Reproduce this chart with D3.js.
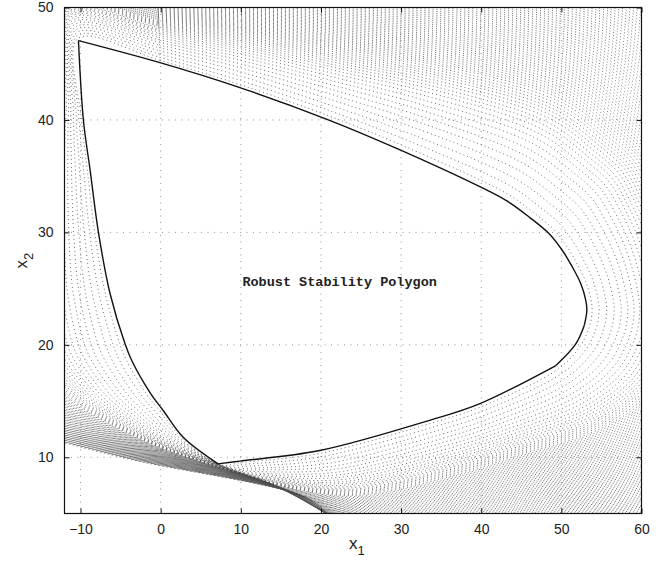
<!DOCTYPE html>
<html>
<head>
<meta charset="utf-8">
<script src="https://cdn.jsdelivr.net/npm/d3@7"></script>
<style>
  body { margin: 0; background: #fff; }
  svg { display: block; }
  .tick text { font-family: "Liberation Sans", Arial, sans-serif; font-size: 14px; fill: #222; }
</style>
</head>
<body>
<svg width="666" height="564"></svg>
<script>
// boundary of the robust stability polygon (x1, x2)
var polyX1 = [-10.26, -0.09, 9.88, 21.08, 29.80, 39.76, 43.09, 45.99, 48.48, 50.13,
              51.38, 52.43, 53.05, 53.18, 52.87, 51.80, 49.32, 39.77, 33.75, 19.84,
              9.88, 7.17, 2.81, 0.32, -1.33, -3.61, -4.45, -6.31, -7.77, -8.80,
              -9.64];
var polyX2 = [47.06, 45.10, 42.88, 39.97, 37.36, 34.09, 32.85, 31.36, 29.88, 28.39,
              26.91, 25.43, 23.95, 23.06, 21.75, 20.09, 18.16, 14.75, 13.33, 10.60,
              9.66, 9.41, 11.78, 14.16, 15.76, 18.61, 20.09, 24.54, 30.03, 35.52,
              39.97];
// vertices where the boundary has a corner
var corners = [0, 14, 16, 21];

// how the family of boundary curves fans out from each polygon vertex
var fanX1 = [-0.6, -0.1, 0.4, 1.0, 2.0, 3.6, 4.0, 4.4, 4.9, 5.1,
             5.3, 5.4, 5.5, 5.5, 5.3, 4.4, 2.6, 2.0, 1.9, 2.0,
             2.3, 2.2, -1.5, -3.6, -4.6, -5.4, -5.5, -5.0, -4.0, -3.0,
             -2.0];
var fanX2 = [1.5, 1.7, 2.2, 2.8, 3.4, 3.8, 3.7, 3.4, 3.0, 2.4,
             1.8, 1.0, 0.2, -0.2, -0.9, -1.9, -2.5, -2.1, -2.1, -1.8,
             -1.0, -0.6, -0.35, -0.3, -0.2, 0, 0.1, 0.3, 0.5, 0.7,
             0.9];
// steps of the family (outer curves are packed tighter)
var fanSteps = [0.12, 0.28, 0.45, 0.62, 0.78, 0.93, 1.07, 1.2, 1.32, 1.43,
                1.53, 1.62, 1.7, 1.78, 1.85, 1.92, 1.98, 2.04, 2.1, 2.16,
                2.22, 2.27, 2.32, 2.37, 2.42, 2.47, 2.52, 2.57, 2.62, 2.67,
                2.72, 2.77, 2.82, 2.87, 2.92, 2.97, 3.02, 3.07, 3.12, 3.17,
                3.22, 3.27, 3.32, 3.37, 3.42, 3.47, 3.52, 3.57, 3.62, 3.67,
                3.72, 3.77, 3.82, 3.87, 3.92, 3.97, 4.02, 4.07, 4.12, 4.17,
                4.22, 4.27, 4.32, 4.37, 4.42, 4.47, 4.52, 4.57, 4.62, 4.67,
                4.72, 4.77, 4.82, 4.87, 4.92, 4.97, 5.02, 5.07, 5.12];

var xTicks = [-10, 0, 10, 20, 30, 40, 50, 60];
var yTicks = [10, 20, 30, 40, 50];

var svg = d3.select("svg"),
    margin = {top: 7.5, right: 24.5, bottom: 50.5, left: 64.5},
    width = +svg.attr("width") - margin.left - margin.right,
    height = +svg.attr("height") - margin.top - margin.bottom;

var x = d3.scaleLinear().domain([-12, 60]).range([0, width]),
    y = d3.scaleLinear().domain([5, 50]).range([height, 0]);

svg.append("defs").append("clipPath")
    .attr("id", "clip")
  .append("rect")
    .attr("width", width)
    .attr("height", height);

var g = svg.append("g")
    .attr("transform", "translate(" + margin.left + "," + margin.top + ")");

var loop = d3.line()
    .x(function(d) { return x(d[0]); })
    .y(function(d) { return y(d[1]); })
    .curve(d3.curveCatmullRomClosed.alpha(0.5));

var piece = d3.line()
    .x(function(d) { return x(d[0]); })
    .y(function(d) { return y(d[1]); })
    .curve(d3.curveCatmullRom.alpha(0.5));

// dotted family of boundary curves
var family = fanSteps.map(function(s) {
    return polyX1.map(function(v, i) {
        return [v + s * fanX1[i], polyX2[i] + s * fanX2[i]];
    });
});

g.append("g")
    .attr("clip-path", "url(#clip)")
  .selectAll("path")
    .data(family)
  .enter().append("path")
    .attr("d", loop)
    .attr("fill", "none")
    .attr("stroke", "#4a4a4a")
    .attr("stroke-width", 0.8)
    .attr("stroke-dasharray", "1,3");

// grid
g.append("g").selectAll("line")
    .data(xTicks)
  .enter().append("line")
    .attr("x1", function(d) { return x(d); })
    .attr("x2", function(d) { return x(d); })
    .attr("y1", 0).attr("y2", height)
    .attr("stroke", "#777").attr("stroke-width", 0.8)
    .attr("stroke-dasharray", "1,5.5");

g.append("g").selectAll("line")
    .data(yTicks)
  .enter().append("line")
    .attr("x1", 0).attr("x2", width)
    .attr("y1", function(d) { return y(d); })
    .attr("y2", function(d) { return y(d); })
    .attr("stroke", "#777").attr("stroke-width", 0.8)
    .attr("stroke-dasharray", "1,5.5");

// polygon, smooth between corners
var poly = polyX1.map(function(v, i) { return [v, polyX2[i]]; });
var pieces = corners.map(function(c, k) {
    var end = k + 1 < corners.length ? corners[k + 1] : poly.length;
    var seg = poly.slice(c, end + 1);
    if (end === poly.length) seg.push(poly[0]);
    return seg;
});

g.append("g").selectAll("path")
    .data(pieces)
  .enter().append("path")
    .attr("d", piece)
    .attr("fill", "none")
    .attr("stroke", "#111")
    .attr("stroke-width", 1.4)
    .attr("stroke-linejoin", "round");

g.append("text")
    .attr("x", x(10.2))
    .attr("y", y(25.2))
    .style("font-family", "'Courier New', 'Liberation Mono', monospace")
    .style("font-weight", "bold")
    .style("font-size", "13.5px")
    .attr("fill", "#222")
    .text("Robust Stability Polygon");

// axes, MATLAB box style with inward ticks
g.append("g")
    .attr("transform", "translate(0," + height + ")")
    .call(d3.axisBottom(x).tickValues(xTicks).tickSizeInner(-5).tickSizeOuter(0).tickPadding(11));
g.append("g")
    .call(d3.axisTop(x).tickValues(xTicks).tickSizeInner(-5).tickSizeOuter(0).tickFormat(""));
g.append("g")
    .call(d3.axisLeft(y).tickValues(yTicks).tickSizeInner(-5).tickSizeOuter(0).tickPadding(11));
g.append("g")
    .attr("transform", "translate(" + width + ",0)")
    .call(d3.axisRight(y).tickValues(yTicks).tickSizeInner(-5).tickSizeOuter(0).tickFormat(""));

g.selectAll(".domain").remove();
g.selectAll(".tick line").attr("stroke", "#111");

g.append("rect")
    .attr("width", width)
    .attr("height", height)
    .attr("fill", "none")
    .attr("stroke", "#111")
    .attr("stroke-width", 1.2);

// axis labels
var xl = svg.append("text")
    .attr("x", margin.left + width / 2 - 4)
    .attr("y", 549)
    .style("font-family", "'Liberation Sans', Arial, sans-serif")
    .style("font-size", "17px")
    .attr("fill", "#222");
xl.append("tspan").text("x");
xl.append("tspan").attr("dy", 6).style("font-size", "13px").text("1");

var yl = svg.append("text")
    .attr("transform", "translate(27," + (margin.top + height / 2 + 8) + ") rotate(-90)")
    .style("font-family", "'Liberation Sans', Arial, sans-serif")
    .style("font-size", "17px")
    .attr("fill", "#222");
yl.append("tspan").text("x");
yl.append("tspan").attr("dy", 6).style("font-size", "13px").text("2");
</script>
</body>
</html>
